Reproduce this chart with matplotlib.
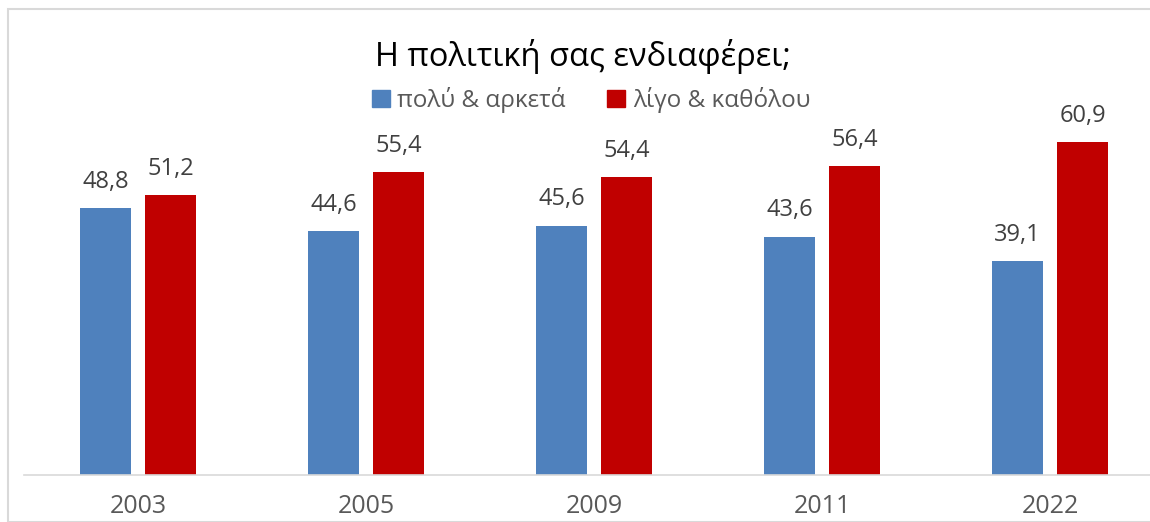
import matplotlib
matplotlib.use("Agg")
import matplotlib.pyplot as plt
from matplotlib.patches import Rectangle, Patch
import numpy as np

years = ["2003", "2005", "2009", "2011", "2022"]
much = [48.8, 44.6, 45.6, 43.6, 39.1]
little = [51.2, 55.4, 54.4, 56.4, 60.9]
series_names = ["πολύ & αρκετά", "λίγο & καθόλου"]
title = "Η πολιτική σας ενδιαφέρει;"

plt.rcParams['font.family'] = ['Open Sans', 'DejaVu Sans']

W, H = 1150, 522
fig = plt.figure(figsize=(W/100, H/100), dpi=100)

# outer border
fig.patches.append(Rectangle((8/W, 0), 1.2, 1 - 9/H, transform=fig.transFigure,
                             fill=False, edgecolor="#D9D9D9", linewidth=1.5))

ax_left, ax_right = 24, 1164
ax_bottom, ax_top = 475, 37.4
ax = fig.add_axes([ax_left/W, 1 - ax_bottom/H, (ax_right-ax_left)/W, (ax_bottom-ax_top)/H])
x = np.arange(len(years))
bw = 0.224
off = 0.1425
b1 = ax.bar(x - off, much, bw, color="#4F81BD", label=series_names[0])
b2 = ax.bar(x + off, little, bw, color="#C00000", label=series_names[1])
for bars, vals in ((b1, much), (b2, little)):
    for r, v in zip(bars, vals):
        ax.text(r.get_x() + r.get_width()/2, v + 2.6, f"{v:.1f}".replace(".", ","),
                ha="center", va="bottom", fontsize=17, color="#404040")

ax.set_xlim(-0.5, len(years) - 0.5)
ax.set_ylim(0, 80)
ax.set_yticks([])
ax.set_xticks(x)
ax.set_xticklabels(years, fontsize=18, color="#595959")
ax.tick_params(axis="x", length=0, pad=14)
for s in ("top", "right", "left"):
    ax.spines[s].set_visible(False)
ax.spines["bottom"].set_color("#D9D9D9")
ax.spines["bottom"].set_linewidth(1.2)
ax.patch.set_visible(False)

fig.text(583/W, 1 - 57/H, title, ha="center", va="center", fontsize=23.5, color="#000000")
handles = [Patch(color="#4F81BD"), Patch(color="#C00000")]
fig.legend(handles, series_names, loc="center", bbox_to_anchor=(591/W, 1 - 100/H),
           ncol=2, frameon=False, fontsize=17.5, handlelength=0.75, handleheight=0.75,
           handletextpad=0.3, columnspacing=1.7, labelcolor="#595959")

fig.savefig("out.png", dpi=100)
